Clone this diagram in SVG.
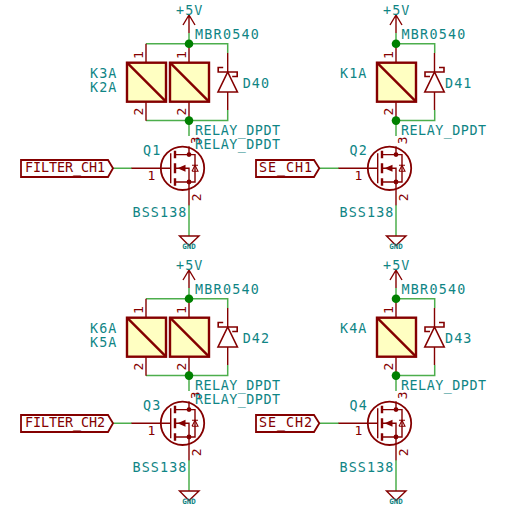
<svg xmlns="http://www.w3.org/2000/svg" xmlns:xlink="http://www.w3.org/1999/xlink" width="506" height="509" viewBox="0 0 506 509">
<style>
text{font-family:"DejaVu Sans Mono","Liberation Mono",monospace;font-size:13.4px;letter-spacing:1.1px;fill:#0f8585}
.r{fill:#840000}
.g{font-size:7.5px;letter-spacing:0;font-weight:bold;text-anchor:middle}
.p{font-size:13px;letter-spacing:0;text-anchor:middle;fill:#840000}
.n{letter-spacing:0}
.s{fill:none;stroke:#840000;stroke-width:1.4}
.t{fill:none;stroke:#840000;stroke-width:2.4}
.w{fill:none;stroke:#4cae4c;stroke-width:1.5}
.j{fill:#008000}
.d{fill:#840000}
.l{fill:none;stroke:#840000;stroke-width:1.8}
</style>
<defs>
<g id="relay">
<rect class="t" x="0" y="0" width="39" height="39" style="fill:#ffffc2"/>
<path class="t" d="M0 0L39 39"/>
</g>
<g id="diode">
<path class="s" d="M0 -19V0M0 20V38"/>
<path class="s" d="M-9.700 20H9.700L0 0Z" style="stroke-width:1.600"/>
<path class="s" d="M-4.500 -4.500H-9.500V0H9.500V4.500H4.500" style="stroke-width:1.600"/>
</g>
<g id="fet">
<circle class="s" cx="0" cy="0" r="21.700" style="stroke-width:1.800"/>
<path class="s" d="M-51 0H-11.800M-11.800 -15V15"/>
<path class="t" d="M-7.500 -17.500V-10M-7.500 -5V5M-7.500 10V17.500"/>
<path class="s" d="M-7.500 -13.700H6.500V-22M-7.500 0H6.500V13.700H-7.500M6.500 13.700V37M6.500 -13.700H12.500V13.700H6.500"/>
<path class="d" d="M-5 0L3 -3.500V3.500Z"/>
<circle class="d" cx="6.500" cy="-13.700" r="2.400"/>
<circle class="d" cx="6.500" cy="13.700" r="2.400"/>
<path class="s" d="M9.500 -3H15.500M9.500 3H15.500L12.500 -3L9.500 3" style="stroke-width:1.100"/>
</g>
</defs>
<g id="connectors">
<path class="w" d="M146 43.700H227.700V53M189 33V43.700M146 120.600H227.700V110M189 120.600V136M113 168.300H132M189 205V236"/>
<path class="w" d="M396 43.700H434.700V53M396 33V43.700M396 120.600H434.700V110M396 120.600V136M319.300 168.300H339M396 205V236"/>
<path class="w" d="M146 298.700H227.700V308M189 288V298.700M146 375.600H227.700V365M189 375.600V391M113 423.300H132M189 460V491"/>
<path class="w" d="M396 298.700H434.700V308M396 288V298.700M396 375.600H434.700V365M396 375.600V391M319.300 423.300H339M396 460V491"/>
</g>
<g id="pwr1"><path class="s" d="M189 33V15M183 25L189 15L195 25"/><text x="176" y="15">+5V</text></g>
<g id="pwr2"><path class="s" d="M396 33V15M390 25L396 15L402 25"/><text x="383" y="15">+5V</text></g>
<g id="pwr3"><path class="s" d="M189 288V270M183 280L189 270L195 280"/><text x="176" y="270">+5V</text></g>
<g id="pwr4"><path class="s" d="M396 288V270M390 280L396 270L402 280"/><text x="383" y="270">+5V</text></g>
<g id="K3A" transform="translate(127 62.700)">
<path class="s" d="M19 -19V0M19 39V58"/><use xlink:href="#relay" href="#relay"/>
<text x="-37" y="15.500">K3A</text>
<text class="p" transform="translate(16 -7.500) rotate(-90)">1</text><text class="p" transform="translate(16 49) rotate(-90)">2</text>
</g>
<g id="K2A" transform="translate(170 62.700)">
<path class="s" d="M19 -19V0M19 39V58"/><use xlink:href="#relay" href="#relay"/>
<text x="-80" y="29.500">K2A</text>
<text class="p" transform="translate(16 -7.500) rotate(-90)">1</text><text class="p" transform="translate(16 49) rotate(-90)">2</text>
</g>
<g id="K1A" transform="translate(377 62.700)">
<path class="s" d="M19 -19V0M19 39V58"/><use xlink:href="#relay" href="#relay"/>
<text x="-37" y="15.500">K1A</text>
<text class="p" transform="translate(16 -7.500) rotate(-90)">1</text><text class="p" transform="translate(16 49) rotate(-90)">2</text>
</g>
<g id="K6A" transform="translate(127 317.700)">
<path class="s" d="M19 -19V0M19 39V58"/><use xlink:href="#relay" href="#relay"/>
<text x="-37" y="15.500">K6A</text>
<text class="p" transform="translate(16 -7.500) rotate(-90)">1</text><text class="p" transform="translate(16 49) rotate(-90)">2</text>
</g>
<g id="K5A" transform="translate(170 317.700)">
<path class="s" d="M19 -19V0M19 39V58"/><use xlink:href="#relay" href="#relay"/>
<text x="-80" y="29.500">K5A</text>
<text class="p" transform="translate(16 -7.500) rotate(-90)">1</text><text class="p" transform="translate(16 49) rotate(-90)">2</text>
</g>
<g id="K4A" transform="translate(377 317.700)">
<path class="s" d="M19 -19V0M19 39V58"/><use xlink:href="#relay" href="#relay"/>
<text x="-37" y="15.500">K4A</text>
<text class="p" transform="translate(16 -7.500) rotate(-90)">1</text><text class="p" transform="translate(16 49) rotate(-90)">2</text>
</g>
<g id="D40" transform="translate(227.700 72)"><use xlink:href="#diode" href="#diode"/><text x="15" y="16">D40</text><text x="-32.700" y="-33" textLength="65">MBR0540</text></g>
<g id="D41" transform="translate(434.500 72)"><use xlink:href="#diode" href="#diode" transform="scale(-1 1)"/><text x="10.500" y="16">D41</text><text x="-33" y="-33" textLength="65">MBR0540</text></g>
<g id="D42" transform="translate(227.700 327)"><use xlink:href="#diode" href="#diode"/><text x="15" y="16">D42</text><text x="-32.700" y="-33" textLength="65">MBR0540</text></g>
<g id="D43" transform="translate(434.500 327)"><use xlink:href="#diode" href="#diode" transform="scale(-1 1)"/><text x="10.500" y="16">D43</text><text x="-33" y="-33" textLength="65">MBR0540</text></g>
<g id="Q1" transform="translate(182.500 168.300)"><use xlink:href="#fet" href="#fet"/>
<text x="-39.500" y="-13">Q1</text><text x="-50" y="48.500">BSS138</text>
<text class="p" x="-31" y="11.500">1</text>
<text class="p" transform="translate(17.500 -28) rotate(-90)">3</text><text class="p" transform="translate(18.500 29) rotate(-90)">2</text>
</g>
<g id="Q2" transform="translate(389.500 168.300)"><use xlink:href="#fet" href="#fet"/>
<text x="-40" y="-13">Q2</text><text x="-50" y="48.500">BSS138</text>
<text class="p" x="-31" y="11.500">1</text>
<text class="p" transform="translate(17.500 -28) rotate(-90)">3</text><text class="p" transform="translate(18.500 29) rotate(-90)">2</text>
</g>
<g id="Q3" transform="translate(182.500 423.300)"><use xlink:href="#fet" href="#fet"/>
<text x="-39.500" y="-13">Q3</text><text x="-50" y="48.500">BSS138</text>
<text class="p" x="-31" y="11.500">1</text>
<text class="p" transform="translate(17.500 -28) rotate(-90)">3</text><text class="p" transform="translate(18.500 29) rotate(-90)">2</text>
</g>
<g id="Q4" transform="translate(389.500 423.300)"><use xlink:href="#fet" href="#fet"/>
<text x="-40" y="-13">Q4</text><text x="-50" y="48.500">BSS138</text>
<text class="p" x="-31" y="11.500">1</text>
<text class="p" transform="translate(17.500 -28) rotate(-90)">3</text><text class="p" transform="translate(18.500 29) rotate(-90)">2</text>
</g>
<g id="relaylabels">
<text class="n" x="195" y="135" textLength="85">RELAY_DPDT</text><text class="n" x="195" y="149" textLength="85">RELAY_DPDT</text>
<text class="n" x="401" y="135" textLength="85">RELAY_DPDT</text>
<text class="n" x="195" y="390" textLength="85">RELAY_DPDT</text><text class="n" x="195" y="404" textLength="85">RELAY_DPDT</text>
<text class="n" x="401" y="390" textLength="85">RELAY_DPDT</text>
</g>
<g id="FILTER_CH1"><path class="l" d="M21 160H108L113 168.300L108 177H21Z"/><text class="r n" x="25" y="171.800" textLength="80">FILTER_CH1</text></g>
<g id="SE_CH1"><path class="l" d="M256 160H314L319.300 168.300L314 177H256Z"/><text class="r n" x="259" y="171.800" textLength="53">SE_CH1</text></g>
<g id="FILTER_CH2"><path class="l" d="M21 415H108L113 423.300L108 432H21Z"/><text class="r n" x="25" y="426.800" textLength="80">FILTER_CH2</text></g>
<g id="SE_CH2"><path class="l" d="M256 415H314L319.300 423.300L314 432H256Z"/><text class="r n" x="259" y="426.800" textLength="53">SE_CH2</text></g>
<g id="GND1"><path class="s" d="M179.500 236H199L189 245.500Z"/><text class="g" x="189" y="248.500">GND</text></g>
<g id="GND2"><path class="s" d="M386.500 236H406L396 245.500Z"/><text class="g" x="396" y="248.500">GND</text></g>
<g id="GND3"><path class="s" d="M179.500 491H199L189 500.500Z"/><text class="g" x="189" y="503.500">GND</text></g>
<g id="GND4"><path class="s" d="M386.500 491H406L396 500.500Z"/><text class="g" x="396" y="503.500">GND</text></g>
<g id="junctions">
<circle class="j" cx="189" cy="43.700" r="4.300"/><circle class="j" cx="189" cy="120.600" r="4.300"/>
<circle class="j" cx="396" cy="43.700" r="4.300"/><circle class="j" cx="396" cy="120.600" r="4.300"/>
<circle class="j" cx="189" cy="298.700" r="4.300"/><circle class="j" cx="189" cy="375.600" r="4.300"/>
<circle class="j" cx="396" cy="298.700" r="4.300"/><circle class="j" cx="396" cy="375.600" r="4.300"/>
</g>
</svg>
